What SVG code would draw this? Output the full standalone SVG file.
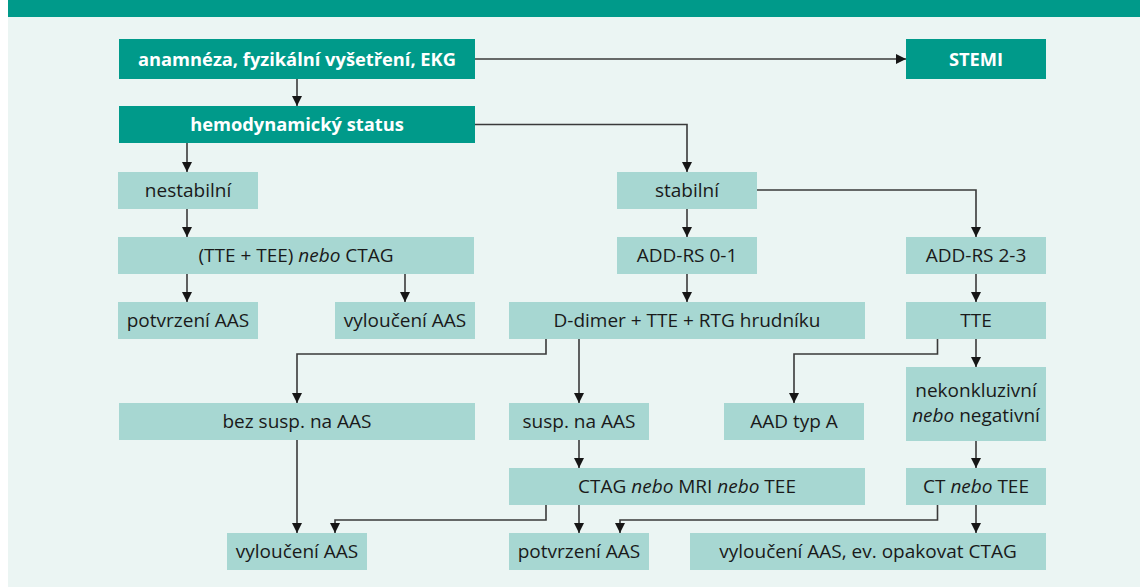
<svg xmlns="http://www.w3.org/2000/svg" width="1140" height="587" viewBox="0 0 1140 587">
<defs>
<style>
.bg{fill:#EBF5F3}
.hdr{fill:#009A8A}
.dk{fill:#009A8A}
.lt{fill:#A7D7D2}
.tb{font-family:"Open Sans","Liberation Sans",sans-serif;font-weight:bold;font-size:18.3px;fill:#ffffff;text-anchor:middle}
.tn{font-family:"Open Sans","Liberation Sans",sans-serif;font-size:19px;fill:#1a1a1a;text-anchor:middle}
.i{font-style:italic}
.c{fill:none;stroke:#3a3a3a;stroke-width:1.6;marker-end:url(#ah)}
</style>
<marker id="ah" viewBox="0 0 10 10" refX="10" refY="5" markerWidth="10" markerHeight="11" markerUnits="userSpaceOnUse" orient="auto">
<path d="M0,0 L10,5 L0,10 z" fill="#161616"/>
</marker>
</defs>
<rect x="0" y="0" width="1140" height="587" fill="#ffffff"/>
<rect class="bg" x="8" y="0" width="1132" height="587"/>
<rect class="hdr" x="8" y="0" width="1132" height="17"/>

<g id="connectors">
<path class="c" d="M475,59 H906"/>
<path class="c" d="M297,79 V106"/>
<path class="c" d="M187,143 V172"/>
<path class="c" d="M475,124.5 H687 V172"/>
<path class="c" d="M187,209 V237"/>
<path class="c" d="M187,274 V302"/>
<path class="c" d="M405,274 V302"/>
<path class="c" d="M687,209 V237"/>
<path class="c" d="M757,190 H976 V237"/>
<path class="c" d="M687,274 V302"/>
<path class="c" d="M976,274 V302"/>
<path class="c" d="M546,339 V354 H297 V403"/>
<path class="c" d="M579,339 V403"/>
<path class="c" d="M937.5,339 V354 H794 V403"/>
<path class="c" d="M976,339 V367"/>
<path class="c" d="M579,440 V468"/>
<path class="c" d="M976,441 V468"/>
<path class="c" d="M297,440 V533"/>
<path class="c" d="M546,505 V520 H335 V533"/>
<path class="c" d="M579,505 V533"/>
<path class="c" d="M937.5,505 V520 H620 V533"/>
<path class="c" d="M976,505 V533"/>
</g>

<g id="n-anamneza"><rect class="dk" x="119" y="39" width="356" height="40"/><text class="tb" x="297" y="65.5">anamnéza, fyzikální vyšetření, EKG</text></g>
<g id="n-stemi"><rect class="dk" x="906" y="39" width="140" height="40"/><text class="tb" x="976" y="65.5">STEMI</text></g>
<g id="n-hemo"><rect class="dk" x="119" y="106" width="356" height="37"/><text class="tb" x="297" y="131">hemodynamický status</text></g>

<g id="n-nestabilni"><rect class="lt" x="118" y="172" width="140" height="37"/><text class="tn" x="188" y="197">nestabilní</text></g>
<g id="n-stabilni"><rect class="lt" x="617" y="172" width="140" height="37"/><text class="tn" x="687" y="197">stabilní</text></g>

<g id="n-ttetee"><rect class="lt" x="118" y="237" width="356" height="37"/><text class="tn" x="296" y="262">(TTE + TEE) <tspan class="i">nebo</tspan> CTAG</text></g>
<g id="n-add01"><rect class="lt" x="617" y="237" width="140" height="37"/><text class="tn" x="687" y="262">ADD-RS 0-1</text></g>
<g id="n-add23"><rect class="lt" x="906" y="237" width="140" height="37"/><text class="tn" x="976" y="262">ADD-RS 2-3</text></g>

<g id="n-potvrzeni1"><rect class="lt" x="118" y="302" width="140" height="37"/><text class="tn" x="188" y="327">potvrzení AAS</text></g>
<g id="n-vylouceni1"><rect class="lt" x="335" y="302" width="140" height="37"/><text class="tn" x="405" y="327">vyloučení AAS</text></g>
<g id="n-ddimer"><rect class="lt" x="509" y="302" width="356" height="37"/><text class="tn" x="687" y="327">D-dimer + TTE + RTG hrudníku</text></g>
<g id="n-tte"><rect class="lt" x="906" y="302" width="140" height="37"/><text class="tn" x="976" y="327">TTE</text></g>

<g id="n-bezsusp"><rect class="lt" x="119" y="403" width="356" height="37"/><text class="tn" x="297" y="428">bez susp. na AAS</text></g>
<g id="n-susp"><rect class="lt" x="509" y="403" width="140" height="37"/><text class="tn" x="579" y="428">susp. na AAS</text></g>
<g id="n-aad"><rect class="lt" x="724" y="403" width="140" height="37"/><text class="tn" x="794" y="428">AAD typ A</text></g>
<g id="n-nekonkl"><rect class="lt" x="906" y="367" width="140" height="74"/><text class="tn" x="976" y="397">nekonkluzivní</text><text class="tn" x="976" y="422"><tspan class="i">nebo</tspan> negativní</text></g>

<g id="n-ctag"><rect class="lt" x="509" y="468" width="356" height="37"/><text class="tn" x="687" y="493">CTAG <tspan class="i">nebo</tspan> MRI <tspan class="i">nebo</tspan> TEE</text></g>
<g id="n-cttee"><rect class="lt" x="906" y="468" width="140" height="37"/><text class="tn" x="976" y="493">CT <tspan class="i">nebo</tspan> TEE</text></g>

<g id="n-vylouceni2"><rect class="lt" x="227" y="533" width="140" height="37"/><text class="tn" x="297" y="558">vyloučení AAS</text></g>
<g id="n-potvrzeni2"><rect class="lt" x="509" y="533" width="140" height="37"/><text class="tn" x="579" y="558">potvrzení AAS</text></g>
<g id="n-vylouceni3"><rect class="lt" x="690" y="533" width="356" height="37"/><text class="tn" x="868" y="558">vyloučení AAS, ev. opakovat CTAG</text></g>
</svg>
